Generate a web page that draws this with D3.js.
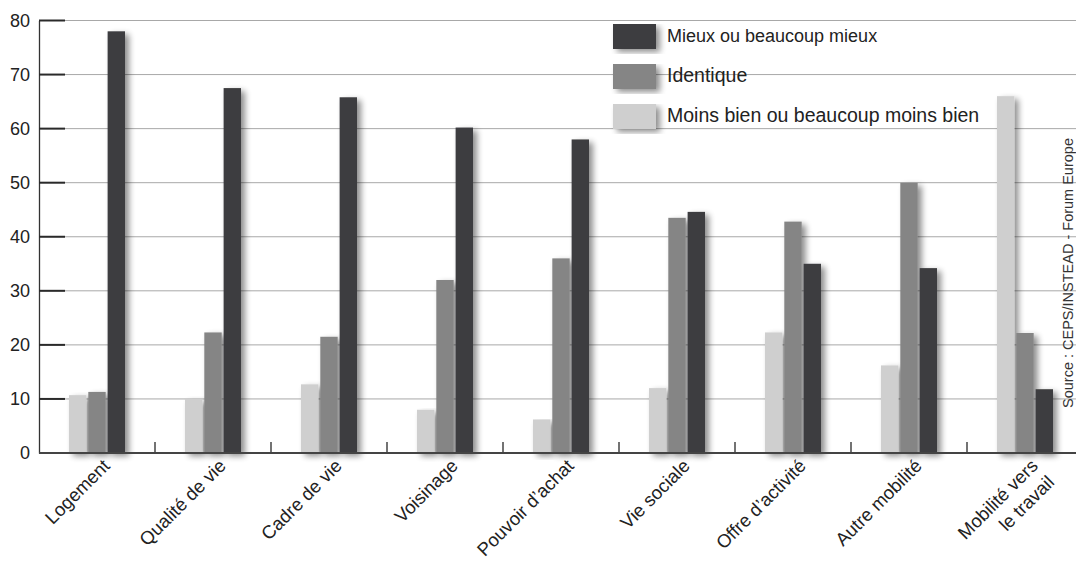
<!DOCTYPE html>
<html>
<head>
<meta charset="utf-8">
<script src="https://cdn.jsdelivr.net/npm/d3@7"></script>
<style>
  html, body { margin: 0; padding: 0; background: #fff; }
  svg { display: block; font-family: "Liberation Sans", Arial, sans-serif; }
</style>
</head>
<body>
<script>
// ---- Data ----
const categories = ["Logement", "Qualité de vie", "Cadre de vie", "Voisinage", "Pouvoir d’achat",
  "Vie sociale", "Offre d’activité", "Autre mobilité", "Mobilité vers\nle travail"];
const seriesNames = ["Moins bien ou beaucoup moins bien", "Identique", "Mieux ou beaucoup mieux"];
const moinsBien = [10.7, 10, 12.7, 8, 6.2, 12, 22.3, 16.2, 66];
const identique = [11.3, 22.3, 21.5, 32, 36, 43.5, 42.8, 50, 22.2];
const mieux = [78, 67.5, 65.8, 60.2, 58, 44.6, 35, 34.2, 11.8];
const yTicks = [0, 10, 20, 30, 40, 50, 60, 70, 80];
const legendOrder = ["Mieux ou beaucoup mieux", "Identique", "Moins bien ou beaucoup moins bien"];
const sourceText = "Source : CEPS/INSTEAD - Forum Europe";

const seriesValues = [moinsBien, identique, mieux];
const colors = ["#cfcfcf", "#858585", "#3e3e40"];

const W = 1076, H = 562;
const svg = d3.select("body").append("svg").attr("width", W).attr("height", H);

const defs = svg.append("defs");
const f = defs.append("filter").attr("id", "shadow")
  .attr("x", "-60%").attr("y", "-10%").attr("width", "260%").attr("height", "130%");
f.append("feGaussianBlur").attr("in", "SourceAlpha").attr("stdDeviation", 3).attr("result", "b");
f.append("feOffset").attr("in", "b").attr("dx", 4).attr("dy", 3).attr("result", "o");
f.append("feComponentTransfer").attr("in", "o").attr("result", "s")
  .append("feFuncA").attr("type", "linear").attr("slope", 0.45);
const fm = f.append("feMerge");
fm.append("feMergeNode").attr("in", "s");
fm.append("feMergeNode").attr("in", "SourceGraphic");

const x0 = d3.scaleBand().domain(categories).range([39, 1083]);
const x1 = d3.scaleBand().domain(seriesNames).range([30, 86]).paddingInner(0.1);
const y = d3.scaleLinear().domain([0, 80]).range([453, 20.5]);
const color = d3.scaleOrdinal().domain(seriesNames).range(colors);

// gridlines
svg.append("g").selectAll("line").data(yTicks.filter(d => d > 0)).join("line")
  .attr("x1", 39).attr("x2", W).attr("y1", d => y(d)).attr("y2", d => y(d))
  .attr("stroke", "#a8a8a8").attr("stroke-width", 1);

// y axis
const yAxis = d3.axisLeft(y).tickValues(yTicks).tickSize(0).tickPadding(9);
const gy = svg.append("g").attr("transform", "translate(39,0)").call(yAxis);
gy.select(".domain").attr("stroke", "#333").attr("stroke-width", 1.3);
gy.selectAll("text").attr("font-size", 18).attr("fill", "#222").attr("font-family", "Liberation Sans, Arial, sans-serif");
svg.append("g").selectAll("line").data(yTicks).join("line")
  .attr("x1", 39).attr("x2", 65).attr("y1", d => y(d)).attr("y2", d => y(d))
  .attr("stroke", "#2a2a2a").attr("stroke-width", 2);

// bars
const groups = svg.append("g").selectAll("g").data(categories).join("g")
  .attr("transform", d => `translate(${x0(d)},0)`);
groups.selectAll("rect").data((d, i) => seriesNames.map((s, j) => ({ s, v: seriesValues[j][i] })))
  .join("rect")
  .attr("x", d => x1(d.s)).attr("width", x1.bandwidth())
  .attr("y", d => y(d.v)).attr("height", d => y(0) - y(d.v))
  .attr("fill", d => color(d.s)).attr("filter", "url(#shadow)");

// x axis baseline + ticks
svg.append("line").attr("x1", 39).attr("x2", W).attr("y1", y(0)).attr("y2", y(0))
  .attr("stroke", "#444").attr("stroke-width", 2);
svg.append("g").selectAll("line").data(categories.slice(1)).join("line")
  .attr("x1", d => x0(d)).attr("x2", d => x0(d)).attr("y1", y(0)).attr("y2", y(0) - 11)
  .attr("stroke", "#444").attr("stroke-width", 1.5);

// x labels
const labels = svg.append("g").selectAll("text").data(categories).join("text")
  .attr("transform", d => `translate(${x0(d) + x0.bandwidth() / 2 + 14},467) rotate(-45)`)
  .attr("text-anchor", "end").attr("font-size", 18.5).attr("fill", "#222");
labels.each(function (d) {
  const lines = d.split("\n");
  const t = d3.select(this);
  lines.forEach((ln, k) => {
    t.append("tspan").attr("x", 0).attr("dy", k === 0 ? 0 : "1.25em").text(ln);
  });
});

// legend
const lg = svg.append("g");
legendOrder.forEach((name, i) => {
  const yy = 24 + i * 40;
  lg.append("rect").attr("x", 613).attr("y", yy).attr("width", 43).attr("height", 25)
    .attr("fill", color(name)).attr("filter", "url(#shadow)");
  lg.append("text").attr("x", 667).attr("y", yy + 18)
    .attr("font-size", i === 0 ? 18 : 19.5).attr("fill", "#222").text(name);
});

// source (vertical, at right edge)
svg.append("text").attr("transform", "translate(1073,408) rotate(-90)")
  .attr("font-size", 14.5).attr("fill", "#333").text(sourceText);
</script>
</body>
</html>
